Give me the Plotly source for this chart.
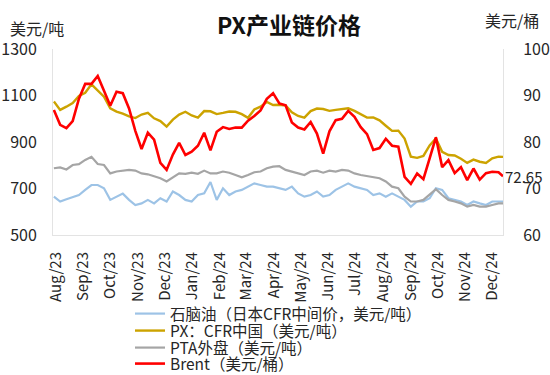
import plotly.graph_objects as go
import pandas as pd

# weekly observation dates (last point = latest print)
dates = list(pd.date_range("2023-07-30", periods=72, freq="7D")) + [pd.Timestamp("2024-12-13")]

naphtha = [665, 644, 654, 662, 672, 694, 715, 715, 701, 651,
           665, 678, 651, 629, 636, 651, 636, 658, 644, 687,
           672, 651, 644, 672, 679, 728, 651, 701, 672, 687,
           694, 708, 722, 715, 708, 708, 701, 694, 708, 679,
           665, 672, 687, 665, 672, 694, 708, 722, 708, 701,
           694, 672, 679, 665, 679, 665, 651, 622, 644, 644,
           658, 701, 694, 658, 651, 644, 629, 644, 636, 629,
           644, 644, 644]

px = [1074, 1038, 1052, 1068, 1098, 1112, 1148, 1122, 1095, 1045,
      1031, 1022, 1010, 1003, 1018, 1025, 1002, 990, 966, 996,
      1018, 1030, 1014, 1005, 1033, 1032, 1020, 1025, 1031, 1030,
      1020, 1004, 1040, 1052, 1072, 1059, 1060, 1057, 1028, 1012,
      1005, 1033, 1044, 1042, 1034, 1038, 1043, 1045, 1034, 1018,
      1005, 1006, 993, 970, 948, 949, 915, 837, 832, 840,
      885, 915, 858, 844, 842, 828, 810, 824, 815, 810,
      830, 837, 836]

pta = [787, 791, 782, 801, 805, 823, 836, 805, 801, 765,
       773, 777, 780, 777, 765, 761, 754, 744, 730, 748,
       765, 763, 768, 763, 777, 765, 765, 773, 768, 758,
       748, 758, 770, 773, 787, 794, 796, 780, 773, 765,
       758, 773, 777, 768, 777, 773, 780, 777, 765, 758,
       754, 751, 744, 730, 708, 701, 665, 644, 644, 651,
       672, 697, 672, 651, 644, 636, 622, 629, 622, 622,
       629, 636, 636]

brent = [86.9, 83.7, 83.0, 84.5, 89.3, 92.5, 92.5, 94.2, 91.0, 87.8,
         90.8, 90.5, 87.2, 82.4, 78.5, 82.0, 80.5, 75.5, 74.0, 77.3,
         79.8, 77.2, 77.9, 79.2, 82.0, 78.2, 82.2, 83.2, 82.8, 83.1,
         83.1, 84.6, 85.6, 86.8, 89.3, 90.5, 88.3, 87.9, 84.2, 83.1,
         82.7, 84.3, 81.8, 77.5, 82.3, 84.7, 85.0, 86.7, 85.4, 83.2,
         81.7, 78.3, 78.7, 80.7, 79.2, 79.0, 72.5, 71.0, 73.2, 72.0,
         76.5, 81.0, 74.6, 76.1, 73.3, 74.6, 71.8, 74.3, 71.9, 73.3,
         73.6, 73.5, 72.65]

names = ["石脑油（日本CFR中间价，美元/吨）", "PX：CFR中国（美元/吨）",
         "PTA外盘（美元/吨）", "Brent（美元/桶）"]
colors = ["#9DC3E6", "#CCA300", "#A5A5A5", "#FF0000"]

tick_dates = list(pd.date_range("2023-08-01", "2024-12-01", freq="MS"))
tick_text = [d.strftime("%b/%y") for d in tick_dates]

FONT = "Noto Sans CJK SC"
TXT = "#262626"

series = [naphtha, px, pta, brent]
widths = [2.2, 2.4, 2.2, 2.6]
legend_ids = ["legend", "legend2", "legend3", "legend4"]

fig = go.Figure()
for i, vals in enumerate(series):
    fig.add_trace(go.Scatter(x=dates, y=vals, name=names[i], mode="lines",
                             line=dict(color=colors[i], width=widths[i]),
                             yaxis="y2" if i == 3 else "y",
                             legend=legend_ids[i]))

# legend rows (pixel centres in reference): 314, 331, 348, 364
row_px = [314, 331, 348, 364]
legend_layout = {}
for i, lid in enumerate(legend_ids):
    legend_layout[lid] = dict(
        x=(130 - 53) / 450, y=(235 - row_px[i]) / 186,
        xanchor="left", yanchor="middle",
        font=dict(size=15.5, color=TXT, family=FONT),
        bgcolor="rgba(0,0,0,0)", itemwidth=30, borderwidth=0)

fig.update_layout(
    width=550, height=375,
    margin=dict(l=53, r=47, t=49, b=140, autoexpand=False),
    paper_bgcolor="white", plot_bgcolor="white",
    font=dict(family=FONT, color=TXT, size=15),
    title=dict(text="<b>PX产业链价格</b>", x=289 / 550, y=1 - 26 / 375,
               xanchor="center", yanchor="middle",
               font=dict(size=23, color="#111111", family=FONT)),
    showlegend=True,
    xaxis=dict(type="date", range=["2023-07-29", "2024-12-13"],
               tickvals=tick_dates, ticktext=tick_text, tickangle=-90,
               ticks="outside", ticklen=10, tickcolor="rgba(0,0,0,0)",
               tickfont=dict(size=15), showgrid=False, zeroline=False,
               showline=True, linecolor="#e3e3e3", linewidth=1,
               automargin=False),
    yaxis=dict(range=[500, 1300], tick0=500, dtick=200, showgrid=False,
               zeroline=False, ticks="outside", ticklen=12,
               tickcolor="rgba(0,0,0,0)", tickfont=dict(size=16),
               showline=True, linecolor="#e3e3e3", linewidth=1,
               automargin=False),
    yaxis2=dict(range=[60, 100], tick0=60, dtick=10, overlaying="y",
                side="right", showgrid=False, zeroline=False,
                ticks="outside", ticklen=16, tickcolor="rgba(0,0,0,0)",
                tickfont=dict(size=16),
                showline=True, linecolor="#e3e3e3", linewidth=1,
                automargin=False),
    **legend_layout,
)

fig.add_annotation(text="美元/吨", xref="paper", yref="paper",
                   x=(8 - 53) / 450, y=(235 - 28) / 186,
                   xanchor="left", yanchor="middle", showarrow=False,
                   font=dict(size=16, color=TXT))
fig.add_annotation(text="美元/桶", xref="paper", yref="paper",
                   x=(483 - 53) / 450, y=(235 - 20) / 186,
                   xanchor="left", yanchor="middle", showarrow=False,
                   font=dict(size=16, color=TXT))
fig.add_annotation(text=f"{brent[-1]}", x=dates[-1], y=brent[-1], yref="y2",
                   xanchor="left", yanchor="middle", xshift=0,
                   showarrow=False, font=dict(size=15, color=TXT))

fig.write_html("out.html", config={"displayModeBar": False},
               post_script="document.body.style.margin='0';document.body.style.overflow='hidden';")
